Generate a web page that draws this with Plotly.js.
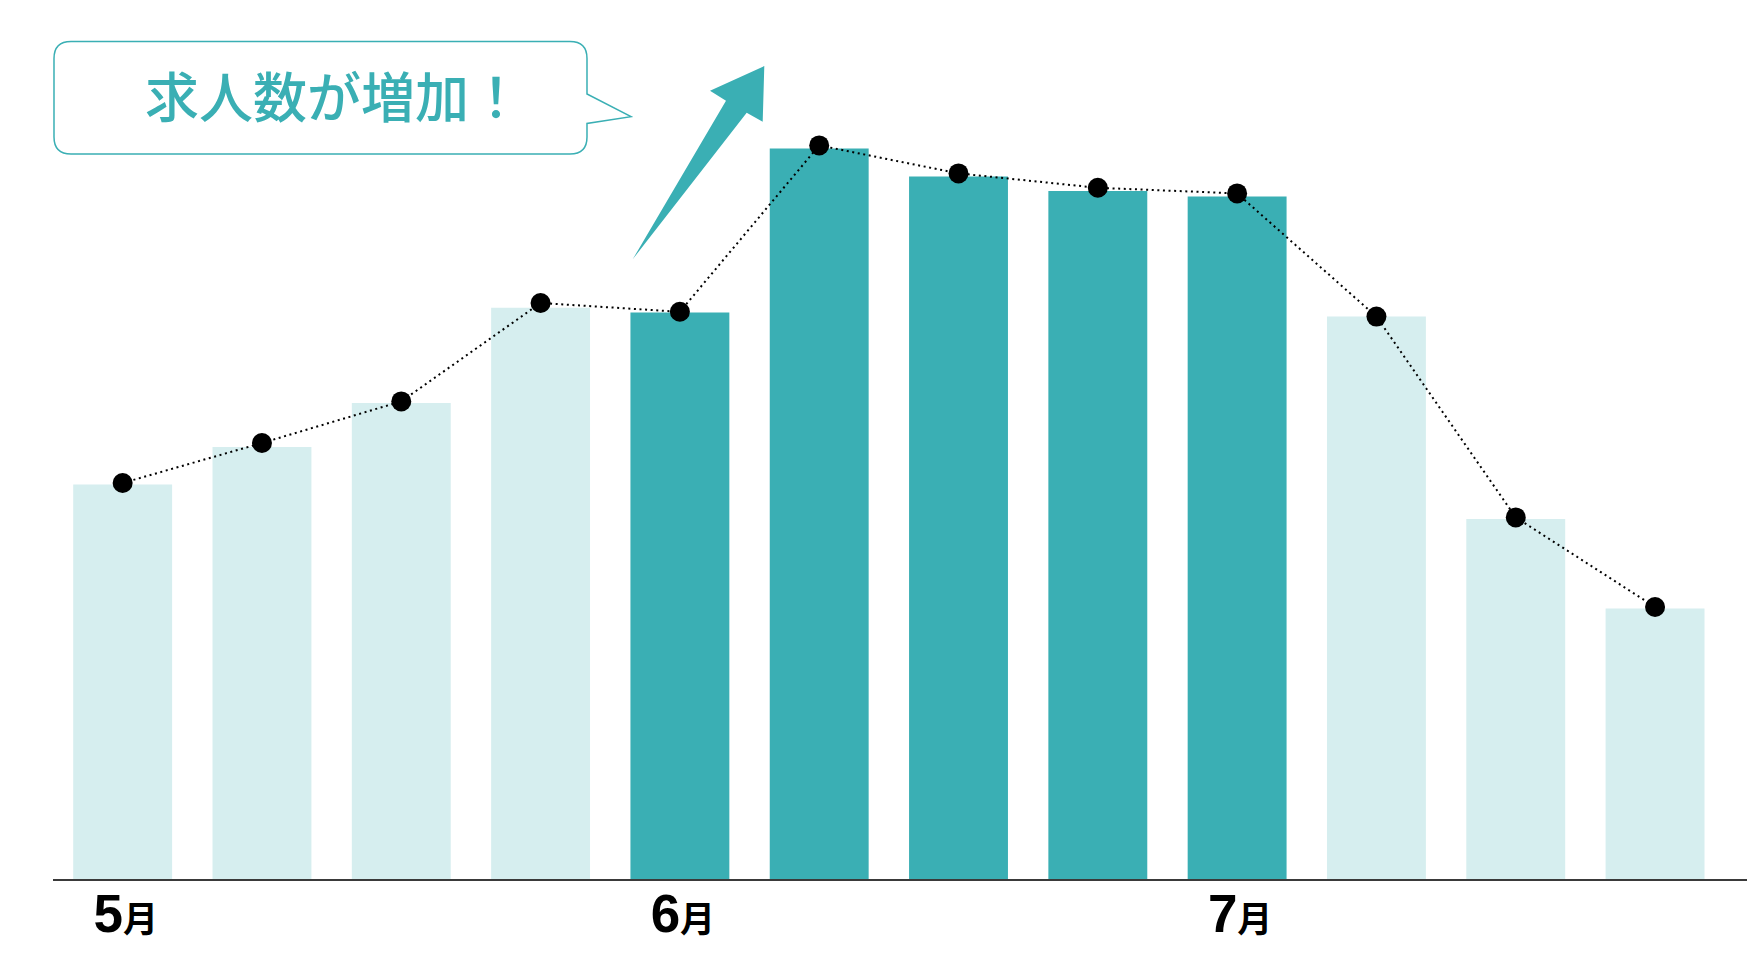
<!DOCTYPE html>
<html>
<head>
<meta charset="utf-8">
<script src="https://cdn.plot.ly/plotly-3.0.1.min.js"></script>
<style>
  html, body { margin: 0; padding: 0; background: #ffffff; }
  #chart { width: 1760px; height: 960px; }
</style>
</head>
<body>
<div id="chart"></div>
<script>
// Weekly job-posting index, May to July (four weeks per month)
const weeks = [
  '5月第1週', '5月第2週', '5月第3週', '5月第4週',
  '6月第1週', '6月第2週', '6月第3週', '6月第4週',
  '7月第1週', '7月第2週', '7月第3週', '7月第4週'
];
const barValues  = [49.3, 54.0, 59.5, 71.4, 70.8, 91.3, 87.8, 86.0, 85.3, 70.3, 45.0, 33.8];
const lineValues = [49.5, 54.5, 59.7, 72.0, 70.9, 91.7, 88.2, 86.4, 85.7, 70.3, 45.2, 34.0];
// Weeks in the hiring peak are drawn in the strong colour
const peakWeeks  = [false, false, false, false, true, true, true, true, true, false, false, false];
const monthTickWeeks = ['5月第1週', '6月第1週', '7月第1週'];
const monthDigits    = ['5', '6', '7'];
const calloutText = '求人数が増加！';

const TEAL = '#3aafb4';
const TEAL_LIGHT = '#d6eeef';

// Plot-area geometry (pixels) used to place the callout and arrow in paper units
const W = 1760, H = 960;
const M = { l: 53, r: 13, t: 79, b: 81 };
const plotW = W - M.l - M.r, plotH = H - M.t - M.b;
const px = (x) => ((x - M.l) / plotW).toFixed(5);
const py = (y) => ((H - M.b - y) / plotH).toFixed(5);
const pt = (x, y) => px(x) + ',' + py(y);

const bars = {
  type: 'bar',
  x: weeks,
  y: barValues,
  marker: { color: peakWeeks.map(p => p ? TEAL : TEAL_LIGHT), line: { width: 0 } },
  hoverinfo: 'x+y'
};

const trend = {
  type: 'scatter',
  mode: 'lines+markers',
  x: weeks,
  y: lineValues,
  line: { color: '#000000', width: 2, dash: '2px,3.6px' },
  marker: { color: '#000000', size: 20 },
  cliponaxis: false,
  hoverinfo: 'x+y'
};

// Speech bubble with a tail pointing right
const r = 17, bl = 54, br = 587, bt = 41.5, bb = 154;
const bubblePath =
  'M' + pt(bl + r, bt) +
  ' L' + pt(br - r, bt) +
  ' Q' + pt(br, bt) + ' ' + pt(br, bt + r) +
  ' L' + pt(br, 94) +
  ' L' + pt(631, 116.7) +
  ' L' + pt(br, 123.5) +
  ' L' + pt(br, bb - r) +
  ' Q' + pt(br, bb) + ' ' + pt(br - r, bb) +
  ' L' + pt(bl + r, bb) +
  ' Q' + pt(bl, bb) + ' ' + pt(bl, bb - r) +
  ' L' + pt(bl, bt + r) +
  ' Q' + pt(bl, bt) + ' ' + pt(bl + r, bt) + ' Z';

// Tapered upward arrow
const arrowPath =
  'M' + pt(632.7, 259.3) +
  ' L' + pt(726, 100.7) +
  ' L' + pt(710, 90.7) +
  ' L' + pt(764.3, 66) +
  ' L' + pt(762.7, 121.7) +
  ' L' + pt(746.7, 112.7) + ' Z';

const layout = {
  width: W,
  height: H,
  margin: M,
  paper_bgcolor: '#ffffff',
  plot_bgcolor: '#ffffff',
  showlegend: false,
  bargap: 0.29,
  xaxis: {
    type: 'category',
    categoryorder: 'array',
    categoryarray: weeks,
    range: [-0.5, 11.66],
    showgrid: false,
    zeroline: false,
    showline: true,
    linecolor: '#3a3a3a',
    linewidth: 1.5,
    ticks: '',
    tickmode: 'array',
    tickvals: monthTickWeeks,
    ticktext: monthDigits.map(d => d + '<span style="font-size:35px">月</span>'),
    ticklabelstandoff: -12,
    ticklabelshift: 3,
    tickfont: { family: 'Liberation Sans, Noto Sans CJK JP, sans-serif', size: 53, color: '#000000', weight: 700 },
    fixedrange: true
  },
  yaxis: {
    range: [0, 100],
    visible: false,
    showgrid: false,
    zeroline: false,
    fixedrange: true
  },
  shapes: [
    {
      type: 'path', xref: 'paper', yref: 'paper', path: bubblePath,
      fillcolor: '#ffffff', line: { color: TEAL, width: 1.5 }, layer: 'above'
    },
    {
      type: 'path', xref: 'paper', yref: 'paper', path: arrowPath,
      fillcolor: TEAL, line: { width: 0 }, layer: 'above'
    }
  ],
  annotations: [
    {
      xref: 'paper', yref: 'paper',
      x: +px(334), y: +py(94),
      xanchor: 'center', yanchor: 'middle',
      text: calloutText,
      showarrow: false,
      font: { family: 'Noto Sans CJK JP, sans-serif', size: 54, color: TEAL, weight: 500 }
    }
  ]
};

Plotly.newPlot('chart', [bars, trend], layout, { displayModeBar: false, staticPlot: true });
</script>
</body>
</html>
